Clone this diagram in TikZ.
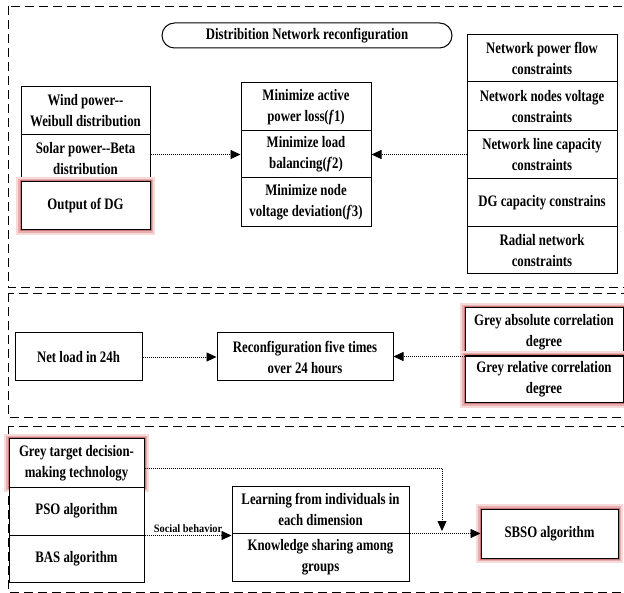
\documentclass[tikz,border=0pt]{standalone}
\usepackage{fontspec}
\setmainfont{Liberation Serif}[FakeStretch=0.8]
\newfontfamily\labfont{Liberation Serif}[FakeStretch=0.92]
\usetikzlibrary{arrows.meta,calc}
\definecolor{glowA}{RGB}{246,218,218}
\definecolor{glowB}{RGB}{232,175,175}
\definecolor{glowC}{RGB}{205,120,120}
\begin{document}
\begin{tikzpicture}[x=1pt,y=-1pt,
  box/.style={draw=black, line width=1pt, fill=white, align=center, inner sep=1pt,
    font=\fontsize{16}{21}\selectfont\bfseries},
  glow/.style={preaction={draw=glowA, line width=10pt},
               preaction={draw=glowB, line width=6pt},
               preaction={draw=glowC, line width=3pt}},
  panel/.style={draw=black, line width=0.9pt, dash pattern=on 9pt off 5pt},
  flow/.style={draw=black, line width=0.8pt, dash pattern=on 1pt off 1pt,
    -{Triangle[length=10pt,width=9pt]}},
  lab/.style={font=\labfont\fontsize{11.3}{12}\selectfont\bfseries, inner sep=1pt}]
\useasboundingbox (0,0) rectangle (624,593);
\clip (0,0) rectangle (624,593);
\fill[white] (0,0) rectangle (624,593);
% panels
\draw[panel] (8,6) rectangle (650,287);
\draw[panel] (8,293) rectangle (650,417);
\draw[panel] (8,426) rectangle (650,592);
% title
\node[box, rounded corners=12.5pt, minimum width=290, minimum height=25] (title) at (307,35.5) {Distribition Network reconfiguration};
% left stack
\node[box, minimum width=129, minimum height=48] (wind) at (85.5,111) {Wind power-{}-\\Weibull distribution};
\node[box, minimum width=129, minimum height=47] (solar) at (85.5,158.5) {Solar power-{}-Beta\\distribution};
\node[box, glow, minimum width=129, minimum height=48] (dg) at (85.5,206) {Output of DG};
% middle stack
\node[box, minimum width=130, minimum height=48] (obj1) at (306,107) {Minimize active\\power loss(\textit{f}1)};
\node[box, minimum width=130, minimum height=47] (obj2) at (306,154.5) {Minimize load\\balancing(\textit{f}2)};
\node[box, minimum width=130, minimum height=49] (obj3) at (306,202.5) {Minimize node\\voltage deviation(\textit{f}3)};
% right stack
\node[box, minimum width=150, minimum height=47] (c1) at (542,58.5) {Network power flow\\constraints};
\node[box, minimum width=150, minimum height=49] (c2) at (542,106.5) {Network nodes voltage\\constraints};
\node[box, minimum width=150, minimum height=48] (c3) at (542,155) {Network line capacity\\constraints};
\node[box, minimum width=150, minimum height=48] (c4) at (542,203) {DG capacity constrains};
\node[box, minimum width=150, minimum height=47] (c5) at (542,250.5) {Radial network\\constraints};
\draw[flow] (solar.east |- obj2) -- (obj2.west);
\draw[flow] (c3.west |- obj2) -- (obj2.east);
% panel 2
\node[box, minimum width=127, minimum height=48] (net) at (78.5,357) {Net load in 24h};
\node[box, minimum width=176, minimum height=48] (reconf) at (305,357) {Reconfiguration five times\\over 24 hours};
\node[box, glow, minimum width=158, minimum height=48] (grey1) at (544,332) {Grey absolute correlation\\degree};
\node[box, glow, minimum width=158, minimum height=47] (grey2) at (544,379.5) {Grey relative correlation\\degree};
\draw[box] (grey1.south west) -- (grey1.south east);
\draw[flow] (net.east) -- (reconf.west);
\draw[flow] (grey1.south west) -- (reconf.east |- grey1.south west);
% panel 3
\node[box, glow, minimum width=135, minimum height=48] (gt) at (76.5,463) {Grey target decision-\\making technology};
\node[box, minimum width=135, minimum height=48] (pso) at (76.5,511) {PSO algorithm};
\node[box, minimum width=135, minimum height=47] (bas) at (76.5,558.5) {BAS algorithm};
\node[box, minimum width=177, minimum height=47] (learn1) at (320.5,509.5) {Learning from individuals in\\each dimension};
\node[box, minimum width=177, minimum height=48] (learn2) at (320.5,557) {Knowledge sharing among\\groups};
\node[box, glow, minimum width=137, minimum height=49] (sbso) at (549.5,533.5) {SBSO algorithm};
\draw[flow] (pso.south east) -- node[lab, above=1pt] (soc) {Social behavior} (learn1.south west |- pso.south east);
\draw[flow] (learn1.south east) -- (sbso.west |- learn1.south east);
\coordinate (join) at (442,531);
\draw[flow] ([yshift=-5pt]gt.east) -| (join);
\end{tikzpicture}
\end{document}
